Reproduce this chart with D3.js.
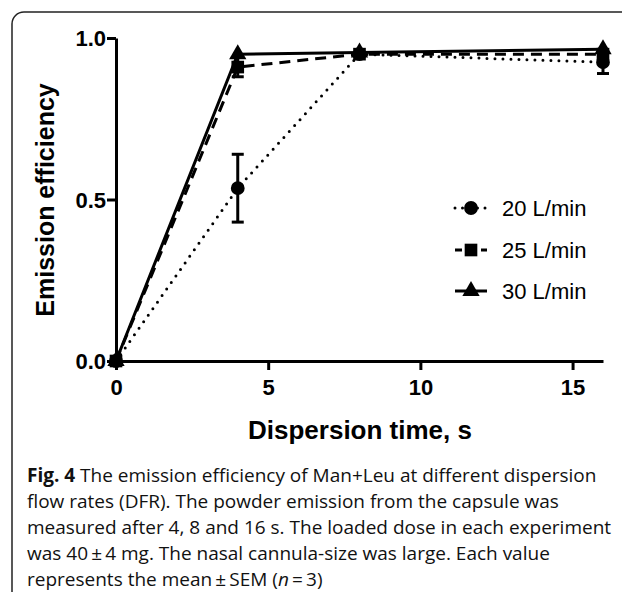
<!DOCTYPE html>
<html>
<head>
<meta charset="utf-8">
<script src="https://cdn.jsdelivr.net/npm/d3@7"></script>
<style>
  body { margin: 0; background: #fff; }
  svg { display: block; }
</style>
</head>
<body>
<div id="chart"></div>
<script>
// values
var times = [0, 4, 8, 16];
var eff20 = [0, 0.535, 0.95, 0.925];
var sem20 = [0, 0.105, 0.005, 0.035];
var eff25 = [0, 0.91, 0.95, 0.95];
var sem25 = [0, 0.03, 0.008, 0.01];
var eff30 = [0, 0.95, 0.955, 0.965];
var sem30 = [0, 0.01, 0.005, 0.01];
var seriesNames = ["20 L/min", "25 L/min", "30 L/min"];
var xTicks = [0, 5, 10, 15];
var yTicks = [0, 0.5, 1.0];

var width = 622, height = 592;
var svg = d3.select("#chart").append("svg")
    .attr("width", width)
    .attr("height", height);

// card border (runs off the right and bottom)
svg.append("rect")
    .attr("x", 12).attr("y", 12)
    .attr("width", 650).attr("height", 620)
    .attr("rx", 12)
    .attr("fill", "none")
    .attr("stroke", "#222")
    .attr("stroke-width", 1.5);

var x = d3.scaleLinear().domain([0, 16]).range([116, 603]);
var y = d3.scaleLinear().domain([0, 1]).range([361, 38]);

var series = [
    { name: seriesNames[0], vals: eff20, err: sem20, dash: "0,8", sym: d3.symbolCircle, size: 150 },
    { name: seriesNames[1], vals: eff25, err: sem25, dash: "11,7", sym: d3.symbolSquare, size: 160 },
    { name: seriesNames[2], vals: eff30, err: sem30, dash: null, sym: d3.symbolTriangle, size: 130 }
];

// axes
var xAxis = svg.append("g")
    .attr("transform", "translate(0," + y(0) + ")")
    .call(d3.axisBottom(x).tickValues(xTicks).tickSize(9).tickSizeOuter(0).tickFormat(d3.format("d")));
var yAxis = svg.append("g")
    .attr("transform", "translate(" + x(0) + ",0)")
    .call(d3.axisLeft(y).tickValues(yTicks).tickSize(9).tickSizeOuter(0).tickFormat(d3.format(".1f")));

[xAxis, yAxis].forEach(function (g) {
    g.selectAll("path, line").attr("stroke", "#000").attr("stroke-width", 3);
    g.selectAll("text")
        .attr("fill", "#000")
        .style("font-family", "Liberation Sans, Arial, sans-serif")
        .style("font-weight", "bold")
        .style("font-size", "22px");
});
xAxis.selectAll("text").attr("dy", "1.0em");
yAxis.selectAll("text").attr("x", -10).attr("dy", "0.35em");

// axis titles
svg.append("text")
    .attr("x", 360).attr("y", 439)
    .attr("text-anchor", "middle")
    .style("font-family", "Liberation Sans, Arial, sans-serif")
    .style("font-weight", "bold")
    .style("font-size", "26px")
    .text("Dispersion time, s");
svg.append("text")
    .attr("transform", "translate(54,200) rotate(-90)")
    .attr("text-anchor", "middle")
    .style("font-family", "Liberation Sans, Arial, sans-serif")
    .style("font-weight", "bold")
    .style("font-size", "25px")
    .text("Emission efficiency");

var line = d3.line()
    .x(function (d) { return x(d.t); })
    .y(function (d) { return y(d.v); });

series.forEach(function (s) {
    var pts = times.map(function (t, i) { return { t: t, v: s.vals[i], e: s.err[i] }; });
    var g = svg.append("g");

    // error bars
    pts.filter(function (d) { return d.e > 0.012; }).forEach(function (d) {
        g.append("line")
            .attr("x1", x(d.t)).attr("x2", x(d.t))
            .attr("y1", y(d.v - d.e)).attr("y2", y(d.v + d.e))
            .attr("stroke", "#000").attr("stroke-width", 3);
        [d.v - d.e, d.v + d.e].forEach(function (v) {
            g.append("line")
                .attr("x1", x(d.t) - 6).attr("x2", x(d.t) + 6)
                .attr("y1", y(v)).attr("y2", y(v))
                .attr("stroke", "#000").attr("stroke-width", 3);
        });
    });

    g.append("path")
        .datum(pts)
        .attr("d", line)
        .attr("fill", "none")
        .attr("stroke", "#000")
        .attr("stroke-width", 3)
        .attr("stroke-linecap", s.dash === "0,8" ? "round" : "butt")
        .attr("stroke-dasharray", s.dash);

    g.selectAll(".pt")
        .data(pts)
        .enter()
        .append("path")
        .attr("transform", function (d) { return "translate(" + x(d.t) + "," + y(d.v) + ")"; })
        .attr("d", d3.symbol().type(s.sym).size(s.size))
        .attr("fill", "#000");
});

// legend
var legY = [208, 250, 291];
series.forEach(function (s, i) {
    var g = svg.append("g").attr("transform", "translate(0," + legY[i] + ")");
    g.append("line")
        .attr("x1", 455).attr("x2", 487)
        .attr("stroke", "#000").attr("stroke-width", 3)
        .attr("stroke-linecap", s.dash === "0,8" ? "round" : "butt")
        .attr("stroke-dasharray", s.dash === "0,8" ? "0,7.5" : (s.dash ? "7,6" : null));
    g.append("path")
        .attr("transform", "translate(471,0)")
        .attr("d", d3.symbol().type(s.sym).size(s.size))
        .attr("fill", "#000");
    g.append("text")
        .attr("x", 502).attr("dy", "0.36em")
        .style("font-family", "Liberation Sans, Arial, sans-serif")
        .style("font-size", "22px")
        .text(s.name);
});

// caption
var capLines = [
    [["Fig. 4", "b"], [" The emission efficiency of Man+Leu at different dispersion", ""]],
    [["flow rates (DFR). The powder emission from the capsule was", ""]],
    [["measured after 4, 8 and 16 s. The loaded dose in each experiment", ""]],
    [["was 40\u2009\u00b1\u20094 mg. The nasal cannula-size was large. Each value", ""]],
    [["represents the mean\u2009\u00b1\u2009SEM (", ""], ["n", "i"], ["\u2009=\u20093)", ""]]
];
var cap = svg.append("text")
    .style("font-family", "Open Sans, Noto Sans, sans-serif")
    .style("font-size", "19px")
    .attr("fill", "#111");
capLines.forEach(function (parts, i) {
    parts.forEach(function (p, j) {
        var ts = cap.append("tspan").text(p[0]);
        if (j === 0) ts.attr("x", 27).attr("y", 482 + i * 26);
        if (p[1] === "b") ts.style("font-weight", "bold");
        if (p[1] === "i") ts.style("font-style", "italic");
    });
});
</script>
</body>
</html>
